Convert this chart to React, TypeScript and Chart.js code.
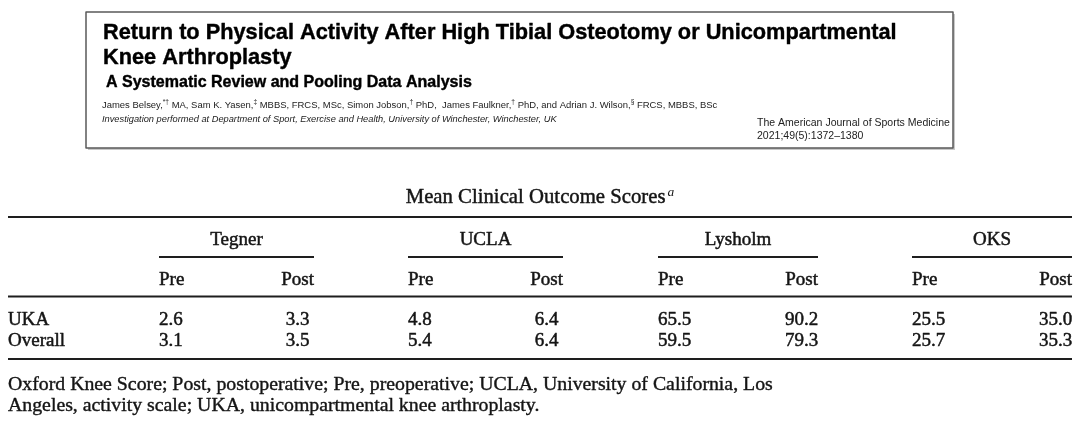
import React, { useEffect, useRef } from "react";
import { Chart, registerables } from "chart.js";

Chart.register(...registerables);

// ---------- data ----------
const groups = ["Tegner", "UCLA", "Lysholm", "OKS"];
const subHeaders = ["Pre", "Post"];
const rowLabels = ["UKA", "Overall"];
const ukaValues = [2.6, 3.3, 4.8, 6.4, 65.5, 90.2, 25.5, 35.0];
const overallValues = [3.1, 3.5, 5.4, 6.4, 59.5, 79.3, 25.7, 35.3];
const tableTitle = "Mean Clinical Outcome Scores";
const tableTitleNote = "a";
const footnoteLines = [
  "Oxford Knee Score; Post, postoperative; Pre, preoperative; UCLA, University of California, Los",
  "Angeles, activity scale; UKA, unicompartmental knee arthroplasty.",
];
const paperTitleLines = [
  "Return to Physical Activity After High Tibial Osteotomy or Unicompartmental",
  "Knee Arthroplasty",
];
const paperSubtitle = "A Systematic Review and Pooling Data Analysis";
type Seg = { t: string; sup?: boolean };
const authorSegments: Seg[] = [
  { t: "James Belsey," },
  { t: "*\u2020", sup: true },
  { t: " MA, Sam K. Yasen," },
  { t: "\u2021", sup: true },
  { t: " MBBS, FRCS, MSc, Simon Jobson," },
  { t: "\u2020", sup: true },
  { t: " PhD,  James Faulkner," },
  { t: "\u2020", sup: true },
  { t: " PhD, and Adrian J. Wilson," },
  { t: "\u00a7", sup: true },
  { t: " FRCS, MBBS, BSc" },
];
const affiliation =
  "Investigation performed at Department of Sport, Exercise and Health, University of Winchester, Winchester, UK";
const journalLines = ["The American Journal of Sports Medicine", "2021;49(5):1372\u20131380"];

// ---------- layout (in the 1080 x 423 scale units) ----------
const groupLeft = [159, 408, 658, 912];
const groupRight = [314, 563, 818, 1072];
const rowBaselines = [325, 346];
const SERIF = '"Liberation Serif", "Times New Roman", serif';
const SANS = '"Liberation Sans", Arial, sans-serif';
const INK = "#151515";

function colX(i: number) {
  const g = Math.floor(i / 2);
  return i % 2 === 0 ? groupLeft[g] : groupRight[g];
}

function fitSize(ctx: CanvasRenderingContext2D, text: string, fontFn: (s: number) => string, width: number) {
  ctx.font = fontFn(20);
  const w = ctx.measureText(text).width;
  return (20 * width) / w;
}

// heavier serif text (to resemble the bold-ish Century face of the journal)
function heavyText(ctx: CanvasRenderingContext2D, text: string, x: number, y: number) {
  ctx.fillText(text, x, y);
  ctx.strokeText(text, x, y);
}

const tablePlugin = {
  id: "tableDraw",
  afterDatasetsDraw(chart: any) {
    const ctx: CanvasRenderingContext2D = chart.ctx;
    const sx = (v: number) => chart.scales.x.getPixelForValue(v);
    const sy = (v: number) => chart.scales.y.getPixelForValue(v);
    ctx.save();
    ctx.textBaseline = "alphabetic";
    ctx.lineJoin = "round";

    // ---- paper header box ----
    const bx0 = sx(86), by0 = sy(12), bx1 = sx(953), by1 = sy(148);
    ctx.fillStyle = "#c8c8c8";
    ctx.fillRect(bx0 + 2, by0 + 2, bx1 - bx0, by1 - by0);
    ctx.fillStyle = "#ffffff";
    ctx.fillRect(bx0, by0, bx1 - bx0, by1 - by0);
    ctx.strokeStyle = "#5a5a5a";
    ctx.lineWidth = 1.5;
    ctx.strokeRect(bx0, by0, bx1 - bx0, by1 - by0);

    ctx.fillStyle = "#000";
    ctx.strokeStyle = "#000";
    ctx.lineWidth = 0.4;
    ctx.textAlign = "left";
    const titleFont = (s: number) => `bold ${s}px ${SANS}`;
    const ts = fitSize(ctx, paperTitleLines[0], titleFont, sx(897) - sx(103));
    ctx.font = titleFont(ts);
    heavyText(ctx, paperTitleLines[0], sx(103), sy(39));
    heavyText(ctx, paperTitleLines[1], sx(103), sy(64));

    const subS = fitSize(ctx, paperSubtitle, titleFont, sx(472) - sx(106));
    ctx.font = titleFont(subS);
    heavyText(ctx, paperSubtitle, sx(106), sy(87));

    // authors with superscripts
    const authS = 9.2;
    const measureSegs = (s: number) => {
      let w = 0;
      for (const seg of authorSegments) {
        ctx.font = `${seg.sup ? s * 0.7 : s}px ${SANS}`;
        w += ctx.measureText(seg.t).width;
      }
      return w;
    };
    const aS = (authS * (sx(717) - sx(102))) / measureSegs(authS);
    let ax = sx(102);
    ctx.fillStyle = "#222";
    for (const seg of authorSegments) {
      ctx.font = `${seg.sup ? aS * 0.7 : aS}px ${SANS}`;
      ctx.fillText(seg.t, ax, sy(108) - (seg.sup ? aS * 0.38 : 0));
      ax += ctx.measureText(seg.t).width;
    }

    const affFont = (s: number) => `italic ${s}px ${SANS}`;
    const affS = fitSize(ctx, affiliation, affFont, sx(557) - sx(102));
    ctx.font = affFont(affS);
    ctx.fillText(affiliation, sx(102), sy(122));

    const jFont = (s: number) => `${s}px ${SANS}`;
    const jS = fitSize(ctx, journalLines[0], jFont, sx(950) - sx(757));
    ctx.font = jFont(jS);
    ctx.fillText(journalLines[0], sx(757), sy(126));
    ctx.fillText(journalLines[1], sx(757), sy(139));

    // ---- table title ----
    ctx.fillStyle = INK;
    ctx.strokeStyle = INK;
    ctx.lineWidth = 0.45;
    const ttFont = (s: number) => `${s}px ${SERIF}`;
    const ttS = fitSize(ctx, tableTitle, ttFont, sx(664) - sx(404));
    ctx.font = ttFont(ttS);
    const ttW = ctx.measureText(tableTitle).width;
    ctx.font = `italic ${ttS * 0.65}px ${SERIF}`;
    const noteW = ctx.measureText(tableTitleNote).width;
    const ttX = sx(540) - (ttW + noteW + 2) / 2;
    ctx.font = ttFont(ttS);
    heavyText(ctx, tableTitle, ttX, sy(203));
    ctx.font = `italic ${ttS * 0.65}px ${SERIF}`;
    ctx.fillText(tableTitleNote, ttX + ttW + 2, sy(196));

    // ---- rules ----
    ctx.strokeStyle = "#1e1e1e";
    ctx.lineWidth = 2;
    const hline = (x0: number, x1: number, y: number) => {
      ctx.beginPath();
      ctx.moveTo(sx(x0), sy(y));
      ctx.lineTo(sx(x1), sy(y));
      ctx.stroke();
    };
    hline(8, 1072, 217);
    hline(8, 1072, 296.5);
    hline(8, 1072, 359);
    groups.forEach((_, g) => hline(groupLeft[g], groupRight[g], 257));

    // ---- headers ----
    ctx.strokeStyle = INK;
    ctx.lineWidth = 0.5;
    const cellFont = `19px ${SERIF}`;
    ctx.font = cellFont;
    ctx.textAlign = "center";
    groups.forEach((name, g) => {
      heavyText(ctx, name, (sx(groupLeft[g]) + sx(groupRight[g])) / 2, sy(245));
    });
    groups.forEach((_, g) => {
      ctx.textAlign = "left";
      heavyText(ctx, subHeaders[0], sx(groupLeft[g]), sy(285));
      ctx.textAlign = "right";
      heavyText(ctx, subHeaders[1], sx(groupRight[g]), sy(285));
    });

    // ---- row labels ----
    ctx.textAlign = "left";
    rowLabels.forEach((lab, r) => heavyText(ctx, lab, sx(8), sy(rowBaselines[r])));

    // ---- cells: drawn at the dataset elements' positions ----
    const postW = ctx.measureText(subHeaders[1]).width;
    const rows = [ukaValues, overallValues];
    chart.data.datasets.forEach((_: any, di: number) => {
      const meta = chart.getDatasetMeta(di);
      meta.data.forEach((el: any, i: number) => {
        const txt = rows[di][i].toFixed(1);
        if (i % 2 === 0) {
          ctx.textAlign = "left";
          heavyText(ctx, txt, el.x, el.y);
        } else {
          ctx.textAlign = "center";
          heavyText(ctx, txt, el.x - postW / 2, el.y);
        }
      });
    });

    // ---- footnote ----
    ctx.textAlign = "left";
    ctx.lineWidth = 0.4;
    const fnFont = (s: number) => `${s}px ${SERIF}`;
    const fnS = fitSize(ctx, footnoteLines[0], fnFont, sx(773) - sx(8));
    ctx.font = fnFont(fnS);
    heavyText(ctx, footnoteLines[0], sx(8), sy(390));
    heavyText(ctx, footnoteLines[1], sx(8), sy(411));

    ctx.restore();
  },
};

export default function App() {
  const canvasRef = useRef<HTMLCanvasElement | null>(null);

  useEffect(() => {
    document.body.style.margin = "0";
    const canvas = canvasRef.current;
    if (!canvas) return;
    const chart = new Chart(canvas, {
      type: "scatter",
      data: {
        datasets: [ukaValues, overallValues].map((vals, r) => ({
          label: rowLabels[r],
          data: vals.map((_, i) => ({ x: colX(i), y: rowBaselines[r] })),
          pointRadius: 0,
          pointHoverRadius: 0,
        })),
      },
      options: {
        animation: false,
        responsive: false,
        devicePixelRatio: 1,
        events: [],
        layout: { padding: 0 },
        scales: {
          x: { type: "linear", min: 0, max: 1080, display: false },
          y: { type: "linear", min: 0, max: 423, reverse: true, display: false },
        },
        plugins: {
          legend: { display: false },
          tooltip: { enabled: false },
          title: { display: false },
        },
      },
      plugins: [tablePlugin],
    });
    return () => chart.destroy();
  }, []);

  return (
    <div style={{ width: 1080, height: 423, background: "#fff" }}>
      <canvas ref={canvasRef} width={1080} height={423} style={{ display: "block" }} />
    </div>
  );
}
